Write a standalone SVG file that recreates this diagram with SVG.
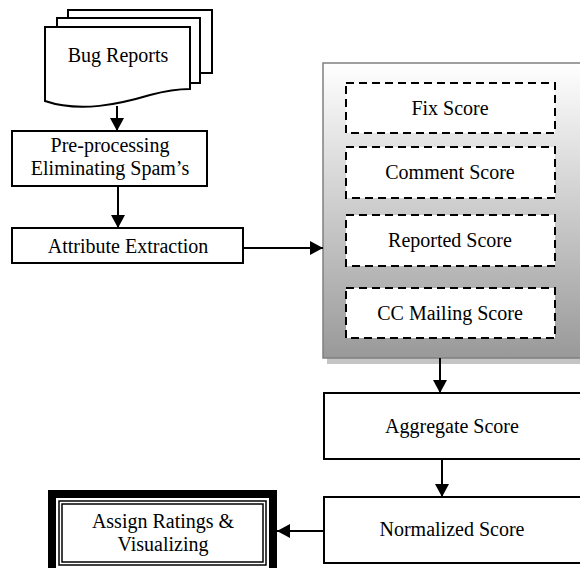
<svg xmlns="http://www.w3.org/2000/svg" width="580" height="568" viewBox="0 0 580 568">
<defs>
<style>
text{font-family:"Liberation Serif","Times New Roman",serif;font-size:20px;fill:#000;text-anchor:middle}
.box{fill:#fff;stroke:#000;stroke-width:2}
.dash{fill:#fff;stroke:#000;stroke-width:2;stroke-dasharray:8,5}
.con{stroke:#000;stroke-width:2;fill:none;marker-end:url(#ah)}
</style>
<linearGradient id="pg" x1="0" y1="0" x2="0" y2="1">
<stop offset="0" stop-color="#ffffff"/>
<stop offset="1" stop-color="#999999"/>
</linearGradient>
<marker id="ah" markerUnits="userSpaceOnUse" markerWidth="14" markerHeight="14" refX="13" refY="7" orient="auto">
<path d="M0,0 L13,7 L0,14 Z" fill="#000"/>
</marker>
</defs>

<g id="bug-reports">
<rect x="68" y="10" width="144" height="63" class="box"/>
<rect x="57" y="18" width="143" height="65" class="box"/>
<path d="M45,27 H190 V89 C180,89 165,91 150,95 C120,104 80,113 45,101 Z" class="box"/>
<text x="118" y="62">Bug Reports</text>
</g>

<g id="pre-processing">
<rect x="12" y="131" width="195" height="55" class="box"/>
<text x="110" y="152">Pre-processing</text>
<text x="110" y="175">Eliminating Spam’s</text>
</g>

<g id="attribute-extraction">
<rect x="12" y="228" width="231" height="35" class="box"/>
<text x="128" y="253">Attribute Extraction</text>
</g>

<g id="score-panel">
<rect x="327" y="68" width="260" height="296" fill="#c4c4c4"/>
<rect x="323" y="63" width="260" height="295" fill="url(#pg)" stroke="#808080" stroke-width="1.5"/>
<g id="fix-score">
<rect x="346" y="83" width="209" height="50" class="dash"/>
<text x="450" y="115">Fix Score</text>
</g>
<g id="comment-score">
<rect x="346" y="147" width="209" height="51" class="dash"/>
<text x="450" y="179">Comment Score</text>
</g>
<g id="reported-score">
<rect x="346" y="215" width="209" height="51" class="dash"/>
<text x="450" y="247">Reported Score</text>
</g>
<g id="cc-mailing-score">
<rect x="346" y="288" width="209" height="50" class="dash"/>
<text x="450" y="320">CC Mailing Score</text>
</g>
</g>

<g id="aggregate-score">
<rect x="324" y="393" width="260" height="66" class="box"/>
<text x="452" y="433">Aggregate Score</text>
</g>

<g id="normalized-score">
<rect x="324" y="497" width="260" height="66" class="box"/>
<text x="452" y="536">Normalized Score</text>
</g>

<g id="assign-ratings">
<rect x="52" y="494" width="221" height="78" fill="#fff" stroke="#000" stroke-width="8"/>
<rect x="59" y="501" width="207" height="64" fill="none" stroke="#000" stroke-width="1.5"/>
<rect x="62" y="504" width="201" height="58" fill="none" stroke="#000" stroke-width="1.5"/>
<text x="163" y="528">Assign Ratings &amp;</text>
<text x="163" y="551">Visualizing</text>
</g>

<g id="connectors">
<path d="M117,106 V131" class="con"/>
<path d="M118,186 V228" class="con"/>
<path d="M243,248 H323" class="con"/>
<path d="M440,358 V393" class="con"/>
<path d="M442,459 V497" class="con"/>
<path d="M324,531 H277" class="con"/>
</g>
</svg>
